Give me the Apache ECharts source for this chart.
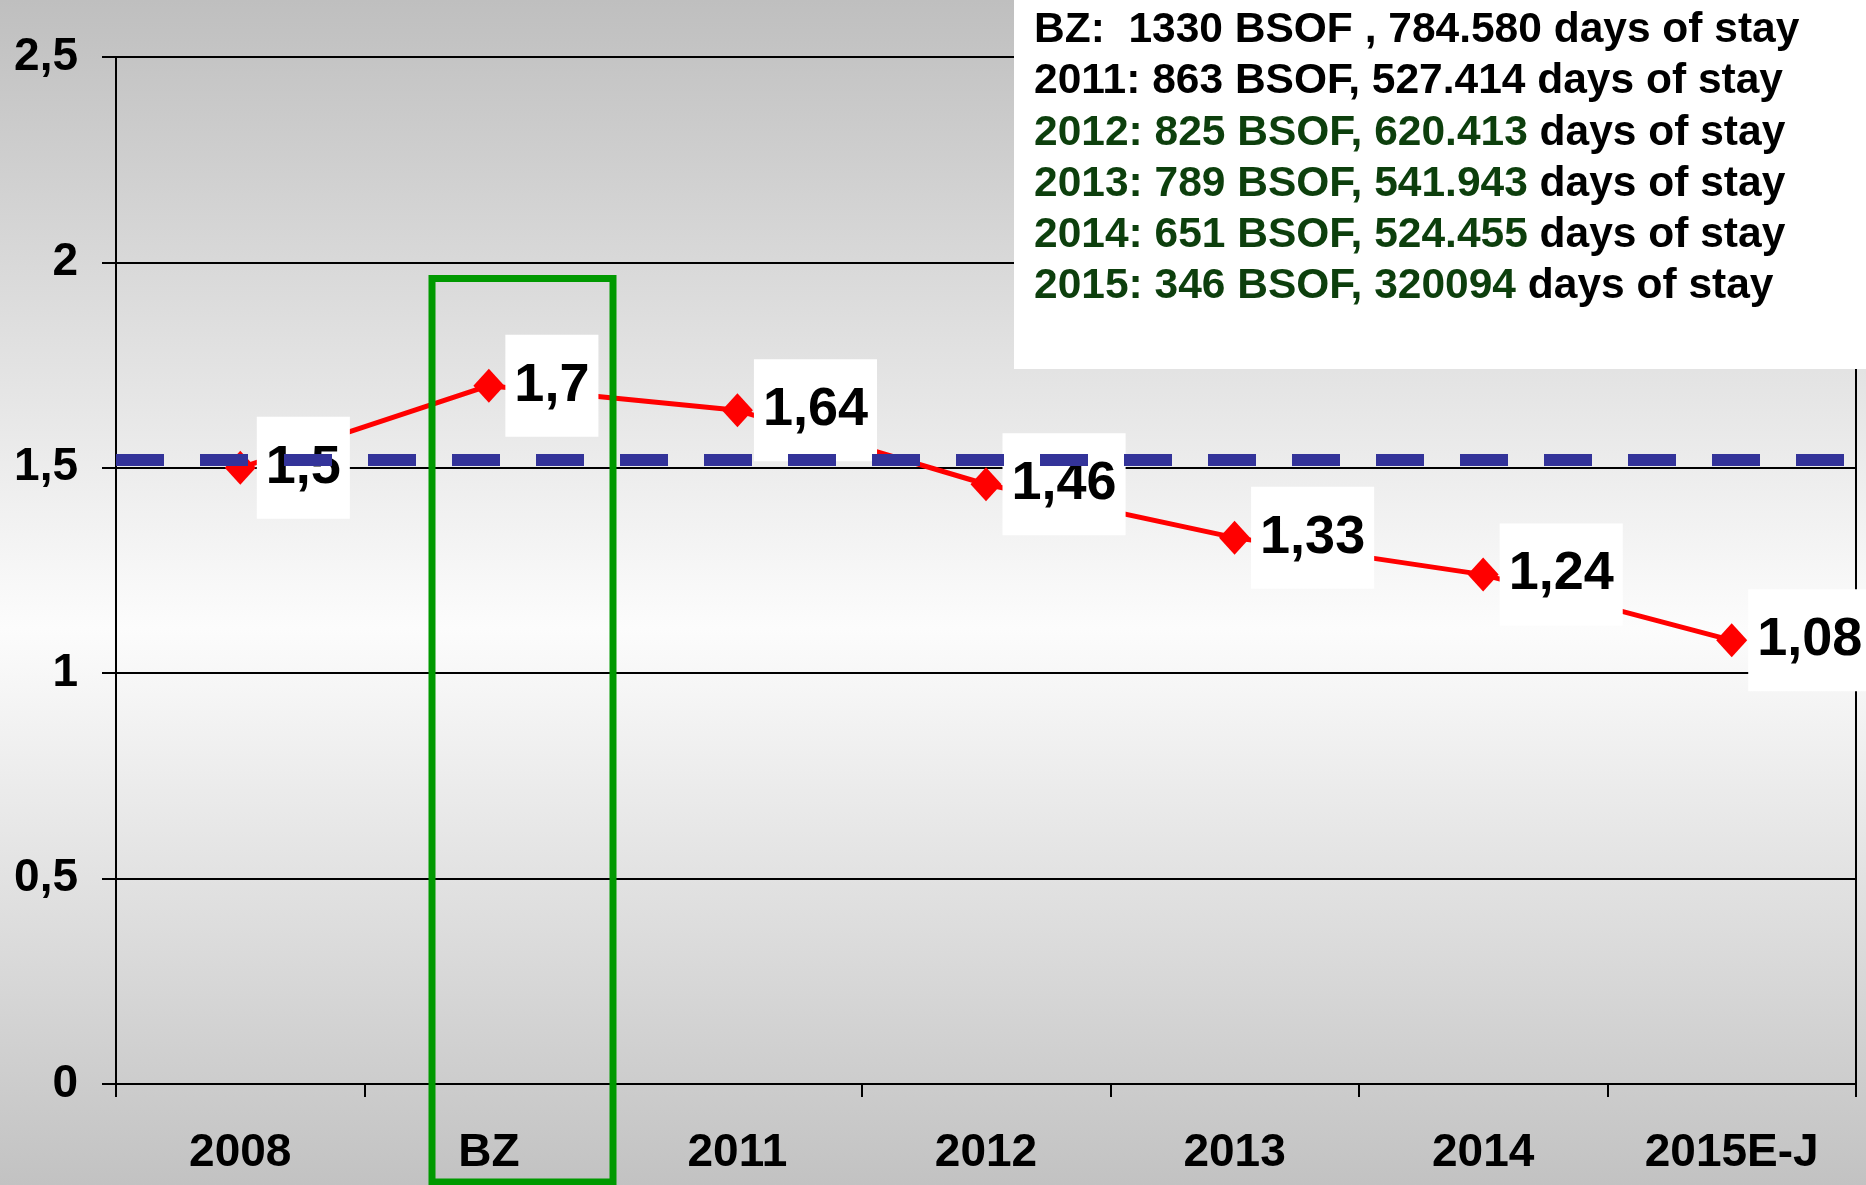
<!DOCTYPE html>
<html>
<head>
<meta charset="utf-8">
<script src="https://cdn.jsdelivr.net/npm/echarts@6/dist/echarts.min.js"></script>
<style>
  html, body { margin: 0; padding: 0; }
  #chart { width: 1866px; height: 1185px; }
</style>
</head>
<body>
<div id="chart"></div>
<script>
// chart data
const categories = ['2008', 'BZ', '2011', '2012', '2013', '2014', '2015E-J']
const ratioValues = [1.5, 1.7, 1.64, 1.46, 1.33, 1.24, 1.08]
const averageValue = 1.52
const noteLines = [
  'BZ:  1330 BSOF , 784.580 days of stay',
  '2011: 863 BSOF, 527.414 days of stay',
  '{g|2012: 825 BSOF, 620.413} days of stay',
  '{g|2013: 789 BSOF, 541.943} days of stay',
  '{g|2014: 651 BSOF, 524.455} days of stay',
  '{g|2015: 346 BSOF, 320094} days of stay'
]

const FONT = '"Liberation Sans", Arial, sans-serif'
const comma = v => String(v).replace('.', ',')

const chart = echarts.init(document.getElementById('chart'))

const noteFont = 'bold 42.5px ' + FONT
const noteTexts = noteLines.map((line, i) => ({
  type: 'text',
  x: 1034,
  y: 30.5 + i * 51.2,
  z: 101,
  style: {
    text: line,
    font: noteFont,
    fill: '#000',
    verticalAlign: 'middle',
    rich: {
      g: { font: noteFont, fill: '#0d3f0d' }
    }
  }
}))

const options = {
  animation: false,
  backgroundColor: {
    type: 'linear', x: 0, y: 0, x2: 0, y2: 1,
    colorStops: [
      { offset: 0, color: '#bfbfbf' },
      { offset: 0.53, color: '#fcfcfc' },
      { offset: 1, color: '#c2c2c2' }
    ]
  },
  grid: {
    left: 116, right: 10, top: 57, bottom: 101,
    show: true,
    borderColor: '#000',
    borderWidth: 2,
    backgroundColor: 'transparent',
    containLabel: false,
    outerBoundsMode: 'none'
  },
  xAxis: {
    type: 'category',
    data: categories,
    boundaryGap: true,
    axisLine: { show: true, lineStyle: { color: '#000', width: 2 } },
    axisTick: { show: true, length: 13, lineStyle: { color: '#000', width: 2 } },
    axisLabel: {
      color: '#000', fontSize: 46, fontWeight: 'bold', fontFamily: FONT,
      margin: 46, interval: 0
    },
    splitLine: { show: false }
  },
  yAxis: {
    type: 'value',
    min: 0,
    max: 2.5,
    interval: 0.5,
    axisLine: { show: true, lineStyle: { color: '#000', width: 2 } },
    axisTick: { show: true, length: 14, lineStyle: { color: '#000', width: 2 } },
    axisLabel: {
      color: '#000', fontSize: 46, fontWeight: 'bold', fontFamily: FONT,
      margin: 38, formatter: comma
    },
    splitLine: { show: true, lineStyle: { color: '#000', width: 2 } }
  },
  series: [
    {
      type: 'line',
      data: ratioValues,
      symbol: 'diamond',
      symbolSize: [31, 34],
      lineStyle: { color: '#ff0000', width: 5 },
      itemStyle: { color: '#ff0000' },
      label: {
        show: true,
        position: 'right',
        distance: 1,
        formatter: p => comma(p.value),
        color: '#000',
        fontSize: 54,
        fontWeight: 'bold',
        fontFamily: FONT,
        lineHeight: 56,
        backgroundColor: '#ffffff',
        padding: [23, 9, 23, 9]
      },
      markLine: {
        silent: true,
        z: 6,
        symbol: 'none',
        label: { show: false },
        lineStyle: { color: '#333399', width: 12, type: [48, 36] },
        data: [{ yAxis: averageValue }]
      }
    }
  ],
  graphic: [
    {
      type: 'rect',
      z: 100,
      shape: { x: 1014, y: 0, width: 852, height: 369 },
      style: { fill: '#ffffff' }
    },
    ...noteTexts,
    {
      type: 'rect',
      z: 100,
      shape: { x: 432, y: 278.5, width: 181, height: 903.5 },
      style: { fill: 'none', stroke: '#009900', lineWidth: 7 }
    }
  ]
}

chart.setOption(options)
</script>
</body>
</html>
